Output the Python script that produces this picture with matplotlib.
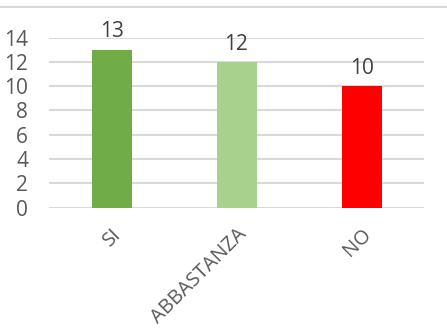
import matplotlib.pyplot as plt

categories = ["SI", "ABBASTANZA", "NO"]
values = [13, 12, 10]
colors = ["#70AD47", "#A9D18E", "#FF0000"]
yticks = [0, 2, 4, 6, 8, 10, 12, 14]

plt.rcParams['font.family'] = ['Open Sans', 'DejaVu Sans']

fig = plt.figure(figsize=(4.47, 3.32), dpi=100)
# axes area in pixels: x 49..424, y 37.5..207.5 (from top)
ax = fig.add_axes([49 / 447, 1 - 207.5 / 332, 375 / 447, 170 / 332])

x = range(len(categories))
bars = ax.bar(x, values, width=0.32, color=colors, zorder=3)

for b, v in zip(bars, values):
    ax.text(b.get_x() + b.get_width() / 2, v + 0.6, str(v),
            ha='center', va='bottom', fontsize=15, color='#404040')

ax.set_xlim(-0.5, len(categories) - 0.5)
ax.set_ylim(0, 14)
ax.set_yticks(yticks)
ax.set_yticklabels([str(t) for t in yticks], fontsize=15, color='#595959')
ax.set_xticks(list(x))
ax.set_xticklabels(categories, rotation=45, ha='right', rotation_mode='anchor',
                   fontsize=14.5, color='#595959')
ax.tick_params(axis='both', length=0)
ax.tick_params(axis='x', pad=12)
ax.tick_params(axis='y', pad=15)
ax.grid(axis='y', color='#D9D9D9', linewidth=1.5, zorder=0)
for s in ax.spines.values():
    s.set_visible(False)

# chart border line near the top
fig.add_artist(plt.Line2D([0, 1], [1 - 7 / 332, 1 - 7 / 332], color='#D9D9D9', linewidth=1.5))

fig.savefig("out.png", dpi=100)
